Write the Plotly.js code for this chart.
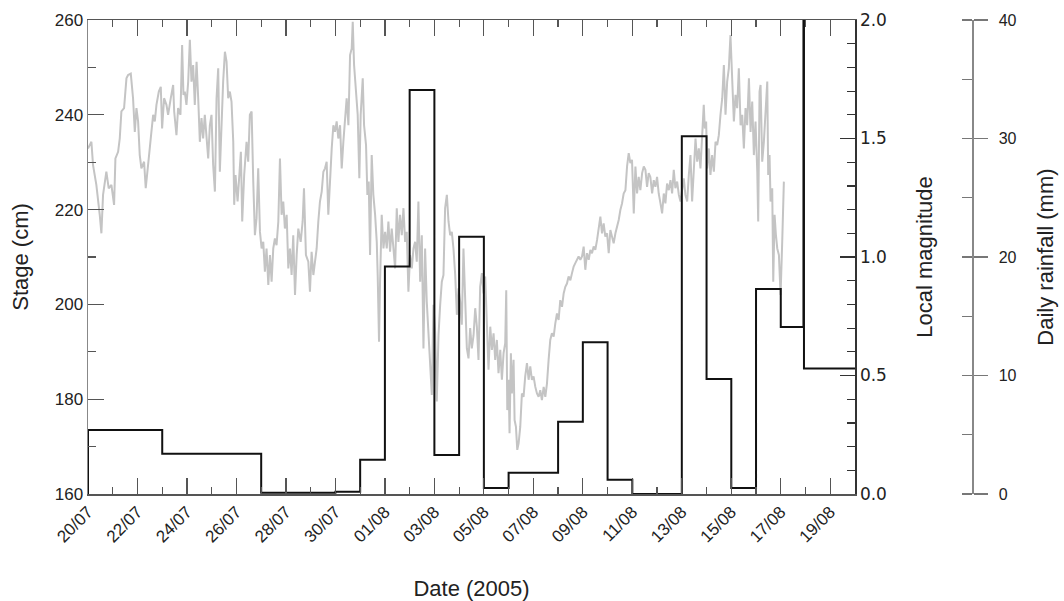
<!DOCTYPE html>
<html>
<head>
<meta charset="utf-8">
<script src="https://cdn.plot.ly/plotly-3.0.1.min.js"></script>
<style>html,body{margin:0;padding:0;background:#fff;}#chart{width:1064px;height:601px;}</style>
</head>
<body>
<div id="chart"></div>
<script>
// Stage record: hours after 2005-07-20 00:00 and stage (cm)
const stageHours = [0.0,3.3,4.9,8.1,11.4,13.0,14.6,17.8,20.1,22.7,25.3,26.6,29.2,30.8,32.4,35.0,37.3,38.9,41.5,43.7,45.4,47.0,48.6,50.2,51.8,54.4,56.0,58.3,59.9,61.5,63.2,64.8,66.4,68.7,70.6,71.9,73.8,76.1,77.7,80.3,82.6,83.6,85.8,87.4,89.7,91.3,92.6,93.9,95.5,97.2,98.8,100.4,102.0,103.6,105.3,106.9,108.5,110.1,111.7,113.3,115.0,116.6,118.2,119.8,121.4,123.1,124.7,126.3,127.9,129.5,131.1,132.8,134.4,136.0,137.6,139.2,140.9,141.8,143.1,145.1,146.4,148.3,149.6,151.5,153.8,155.4,157.0,158.7,160.3,161.9,163.5,165.1,166.8,168.4,170.0,171.6,173.2,174.9,176.5,178.1,179.7,181.3,182.9,184.6,186.2,187.8,
189.4,191.0,192.7,194.3,195.9,197.5,199.1,200.8,202.4,204.0,206.3,208.2,209.5,211.4,213.7,215.3,216.9,218.6,220.2,221.8,223.4,225.0,226.7,228.3,229.9,231.5,233.1,234.8,236.4,238.0,239.6,241.2,242.8,244.5,246.1,247.7,249.3,250.9,252.6,254.2,255.8,256.8,258.1,260.0,261.6,263.2,264.5,266.5,267.8,269.7,271.0,272.3,273.6,275.2,276.8,278.5,280.1,281.0,282.3,283.3,284.9,286.6,288.2,289.8,291.4,293.0,294.6,296.3,297.9,299.5,301.1,302.7,304.4,306.0,307.6,309.2,310.8,312.4,314.1,315.7,317.3,318.9,320.5,322.2,323.8,325.4,327.0,328.6,330.3,331.9,333.5,335.1,336.7,338.3,340.0,341.6,343.2,344.8,346.4,348.1,349.7,351.3,352.9,354.5,356.2,357.8,359.4,361.0,362.6,364.2,365.9,367.5,369.1,370.7,372.3,374.0,375.6,
377.2,378.8,380.4,382.1,383.7,385.3,386.9,388.5,390.2,391.8,393.4,395.0,396.6,398.2,399.9,401.5,403.1,404.7,405.7,406.7,408.0,408.9,410.2,411.2,412.8,413.8,415.1,416.4,417.7,419.3,420.9,422.5,424.1,425.8,427.4,429.0,430.6,432.2,433.9,435.5,437.1,438.7,440.3,442.0,443.6,445.2,446.8,448.4,450.0,451.7,453.3,454.9,456.5,458.1,459.8,461.4,463.0,464.6,466.2,467.9,469.5,471.1,472.7,474.3,475.9,477.6,479.2,480.8,482.4,484.0,485.7,487.3,488.9,490.5,492.1,493.8,495.4,497.0,498.6,500.2,501.8,503.5,505.1,506.7,508.3,509.9,511.6,513.2,514.8,516.4,518.0,519.6,521.3,522.9,524.5,526.1,527.7,529.4,531.0,532.6,534.2,535.8,537.5,539.1,540.7,542.3,543.9,545.5,547.2,548.8,550.4,552.0,553.6,555.3,556.9,558.5,560.1,561.7,563.4,565.0,566.6,568.2,
569.8,571.5,573.1,574.7,576.3,577.9,579.5,581.2,582.8,584.4,586.0,587.6,589.3,590.9,592.5,594.1,595.7,597.3,598.3,599.6,600.6,602.2,603.8,605.4,607.1,608.7,610.3,611.9,613.5,615.2,616.8,618.4,620.0,621.6,623.2,624.2,625.5,626.5,628.1,629.7,631.3,633.0,634.6,636.2,637.8,639.4,641.1,642.7,644.3,645.9,647.5,649.2,650.1,651.4,652.4,654.0,655.6,657.2,658.9,659.8,661.1,662.1,663.7,664.7,666.0,667.3,668.6,670.2,671.8,673.4,675.0];

const stageCm = [232.9,234.3,229.4,225.2,218.9,215.0,223.1,228.0,224.5,225.2,221.0,230.8,232.2,235.0,240.7,241.4,247.7,248.4,248.7,243.5,236.4,241.4,238.6,231.5,228.7,230.1,224.5,228.7,232.9,236.4,240.0,238.6,242.1,244.9,245.9,237.1,243.5,242.1,240.0,243.5,246.3,240.7,235.7,241.4,240.0,254.7,244.2,244.9,242.1,247.0,255.8,247.0,250.5,242.1,251.2,243.5,234.3,239.3,235.0,240.0,235.7,230.8,237.8,240.0,229.4,223.8,243.5,249.8,228.0,238.6,247.0,253.3,251.2,243.5,244.9,242.8,234.3,221.0,227.3,221.7,225.9,232.2,217.5,227.3,234.3,230.1,240.0,240.7,225.9,214.6,218.2,228.7,215.3,211.8,213.2,206.9,211.8,204.1,210.4,204.8,211.8,213.9,212.5,217.5,230.8,218.9,
221.7,216.0,218.9,207.6,211.8,206.2,214.6,202.0,210.4,216.0,213.2,217.5,224.5,210.4,209.0,202.7,211.1,206.2,209.0,211.8,217.5,221.7,223.8,228.0,228.7,230.1,218.9,227.3,232.9,237.8,236.4,238.6,235.0,237.8,228.7,234.3,240.0,243.5,237.8,252.6,254.0,259.6,250.5,243.5,240.0,226.6,240.0,247.7,237.8,233.6,223.1,225.9,210.4,231.5,223.1,218.9,213.2,206.2,192.1,204.8,218.9,211.8,215.3,211.8,217.5,211.1,216.0,211.8,207.6,220.3,213.2,218.9,214.6,220.3,213.2,215.3,202.7,210.4,207.6,211.8,213.2,209.0,221.7,204.8,214.6,190.7,211.8,200.6,193.5,185.1,180.9,199.9,194.2,179.5,193.5,199.9,204.8,206.2,220.3,223.1,217.5,214.6,215.3,211.8,206.2,197.8,203.4,200.6,195.7,211.8,199.9,190.7,188.6,195.0,190.7,193.5,199.2,
195.3,188.3,203.7,206.6,202.3,205.9,196.7,186.2,195.3,190.4,193.9,188.3,192.5,185.5,190.4,184.1,189.7,191.8,203.0,177.7,184.1,172.8,189.7,181.2,188.3,175.6,174.2,169.3,170.7,174.2,181.2,180.5,184.8,187.6,184.1,186.9,184.1,184.8,182.6,181.2,180.5,181.9,179.8,182.6,180.5,183.3,188.3,192.5,193.9,193.2,196.0,198.1,196.7,200.9,199.5,202.3,203.7,204.4,205.9,205.1,206.6,208.0,208.7,209.4,210.1,209.4,210.1,212.2,207.3,210.8,209.4,211.5,210.8,212.2,211.5,213.6,216.4,218.5,215.0,217.1,214.3,215.0,210.8,215.7,214.3,212.9,215.0,216.4,217.8,219.9,221.3,223.4,224.1,229.1,231.9,229.8,230.5,219.2,229.1,223.4,226.9,224.1,227.7,229.1,228.4,224.8,227.7,226.9,223.4,226.2,224.8,226.9,223.4,221.3,219.2,223.4,221.3,225.5,224.1,226.2,223.4,228.4,
224.5,225.9,223.1,221.7,224.5,226.6,223.1,221.7,227.3,231.5,221.7,229.4,235.0,230.1,232.9,228.7,235.0,242.1,237.1,238.6,228.7,232.9,227.3,231.5,228.0,234.3,233.6,235.7,240.0,243.5,250.5,240.0,247.0,249.8,256.8,251.2,242.8,238.6,244.2,241.4,249.8,237.8,240.0,232.9,241.4,237.8,247.7,236.4,242.8,231.5,238.6,228.0,217.5,244.9,246.3,230.1,234.3,240.0,247.0,227.3,231.5,221.7,224.5,204.8,218.9,214.6,211.8,210.4,202.0,213.2,225.9];

// Rainfall record (step starts and values, mm)
const rainStart = ['2005-07-20 00:00','2005-07-20 00:00','2005-07-23','2005-07-27','2005-07-30','2005-07-31','2005-08-01','2005-08-02','2005-08-03','2005-08-04','2005-08-05','2005-08-06','2005-08-08','2005-08-09','2005-08-10','2005-08-11','2005-08-13','2005-08-14','2005-08-15','2005-08-16','2005-08-17','2005-08-17 22:00','2005-08-17 22:30','2005-08-20'];
const rainMm = [0,5.4,3.4,0.1,0.2,2.9,19.2,34.1,3.3,21.7,0.5,1.8,6.1,12.8,1.2,0,30.2,9.7,0.5,17.3,14.1,60,10.6,10.6];

// Axis settings
const xRange = ['2005-07-20','2005-08-20'];
const stageRange = [160,260];
const magRange = [0,2];
const rainRange = [0,40];

const t0 = Date.UTC(2005,6,20);
function toDate(h){
  return new Date(t0 + h*3600000).toISOString().slice(0,19).replace('T',' ');
}
const stageDates = stageHours.map(toDate);

const AX = '#555';
const TXT = '#222';
const ARIAL = 'Liberation Sans, Arial, sans-serif';
const VERD = 'DejaVu Sans, Verdana, sans-serif';

const traces = [
  {x: stageDates, y: stageCm, type:'scatter', mode:'lines', xaxis:'x', yaxis:'y',
   line:{color:'#c4c4c4', width:2}, hoverinfo:'skip', showlegend:false},
  {x: rainStart, y: rainMm, type:'scatter', mode:'lines', xaxis:'x', yaxis:'y3',
   line:{color:'#111', width:2, shape:'hv'}, hoverinfo:'skip', showlegend:false},
  {x: [], y: [], type:'scatter', mode:'lines', xaxis:'x', yaxis:'y2', showlegend:false}
];

const layout = {
  width:1064, height:601,
  margin:{l:88, r:24, t:20, b:107},
  paper_bgcolor:'#fff', plot_bgcolor:'#fff',
  showlegend:false,
  font:{family:ARIAL, color:TXT},
  xaxis:{
    domain:[0, 767/952], type:'date', range:xRange,
    tick0:'2005-07-20', dtick:172800000, tickformat:'%d/%m', tickangle:-45,
    ticks:'inside', ticklen:16, tickwidth:1.2, tickcolor:AX,
    showline:true, linecolor:AX, linewidth:1.5, mirror:'ticks',
    showgrid:false, zeroline:false,
    minor:{dtick:86400000, ticks:'inside', ticklen:7, tickwidth:1.2, tickcolor:AX, showgrid:false},
    tickfont:{family:ARIAL, size:17, color:TXT},
    title:{text:'Date (2005)', font:{family:ARIAL, size:22, color:TXT}, standoff:42}
  },
  yaxis:{
    range:stageRange, dtick:20, ticks:'inside', ticklen:16, tickwidth:1.2, tickcolor:AX,
    showline:true, linecolor:'#888', linewidth:1.5, showgrid:false, zeroline:false,
    minor:{dtick:10, ticks:'inside', ticklen:8, tickwidth:1.2, tickcolor:AX, showgrid:false},
    tickfont:{family:ARIAL, size:17, color:TXT},
    title:{text:'Stage (cm)', font:{family:ARIAL, size:22, color:TXT}, standoff:20}
  },
  yaxis2:{
    overlaying:'y', side:'right', anchor:'x', range:magRange, dtick:0.5, tickformat:'.1f',
    ticks:'inside', ticklen:15, tickwidth:1.2, tickcolor:'#333',
    showline:true, linecolor:'#333', linewidth:1.5, showgrid:false, zeroline:false,
    minor:{dtick:0.1, ticks:'inside', ticklen:8, tickwidth:1.2, tickcolor:'#333', showgrid:false},
    tickfont:{family:VERD, size:17, color:TXT},
    title:{text:'Local magnitude', font:{family:ARIAL, size:22, color:TXT}, standoff:30}
  },
  yaxis3:{
    overlaying:'y', side:'right', anchor:'free', position:884/952, range:rainRange, dtick:10,
    ticks:'outside', ticklen:14, tickwidth:1.2, tickcolor:'#777', ticklabelstandoff:8,
    showline:true, linecolor:'#888', linewidth:1.5, showgrid:false, zeroline:false,
    minor:{dtick:5, ticks:'inside', ticklen:10, tickwidth:1.2, tickcolor:'#777', showgrid:false},
    tickfont:{family:ARIAL, size:16, color:TXT},
    title:{text:'Daily rainfall (mm)', font:{family:ARIAL, size:22, color:TXT}, standoff:22}
  }
};

Plotly.newPlot('chart', traces, layout, {staticPlot:true, displayModeBar:false});
</script>
</body>
</html>
